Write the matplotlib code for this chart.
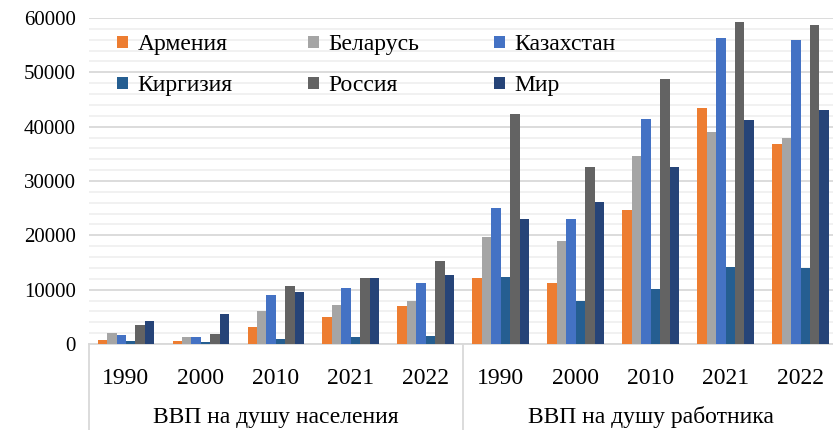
import numpy as np
import matplotlib.pyplot as plt
from matplotlib.patches import Patch
from matplotlib.ticker import MultipleLocator

plt.rcParams['font.family'] = ['Liberation Serif', 'DejaVu Serif']

years = ['1990', '2000', '2010', '2021', '2022'] * 2
groups = ['ВВП на душу населения', 'ВВП на душу работника']
countries = ['Армения', 'Беларусь', 'Казахстан', 'Киргизия', 'Россия', 'Мир']
colors = ['#ED7D31', '#A5A5A5', '#4472C4', '#255E91', '#636363', '#264478']

armenia = [650, 600, 3150, 4950, 7000, 12200, 11300, 24600, 43350, 36750]
belarus = [2100, 1250, 6050, 7250, 7850, 19750, 19000, 34650, 39000, 37950]
kazakhstan = [1600, 1250, 9050, 10350, 11250, 24950, 23000, 41450, 56300, 55900]
kyrgyzstan = [600, 300, 900, 1250, 1550, 12400, 7900, 10050, 14250, 13900]
russia = [3450, 1750, 10650, 12150, 15300, 42300, 32550, 48750, 59200, 58750]
world = [4300, 5500, 9550, 12200, 12650, 23000, 26200, 32500, 41200, 43000]
series = [armenia, belarus, kazakhstan, kyrgyzstan, russia, world]

fig = plt.figure(figsize=(8.33, 4.3), dpi=100)
ax = fig.add_axes([88.5 / 833, 86 / 430, 749.5 / 833, 326 / 430])

x = np.arange(len(years))
w = 0.126
for i, (vals, c, name) in enumerate(zip(series, colors, countries)):
    ax.bar(x + (i - 2.5) * w, vals, width=w, color=c, label=name, zorder=3)

ax.set_ylim(0, 60000)
ax.set_xlim(-0.5, 9.5)
ax.yaxis.set_major_locator(MultipleLocator(10000))
ax.yaxis.set_minor_locator(MultipleLocator(2000))
ax.grid(axis='y', which='major', color='#D9D9D9', linewidth=1.3, zorder=0)
ax.grid(axis='y', which='minor', color='#F0F0F0', linewidth=1.3, zorder=0)
for s in ['top', 'right', 'left']:
    ax.spines[s].set_visible(False)
ax.spines['bottom'].set_color('#D9D9D9')
ax.spines['bottom'].set_linewidth(1.3)
ax.tick_params(axis='y', which='both', length=0, labelsize=15, pad=9)
ax.tick_params(axis='x', length=0, labelsize=17, pad=17)
ax.set_xticks(x)
ax.set_xticklabels(years)

trans = ax.get_xaxis_transform()
for xs in [-0.5, 4.5, 9.5]:
    ax.plot([xs, xs], [0, -0.27], color='#D9D9D9', linewidth=1.3,
            transform=trans, clip_on=False)
for gi, g in enumerate(groups):
    ax.text(gi * 5 + 2, -0.225, g, transform=trans, ha='center', va='center',
            fontsize=17)

# legend fills column by column, so reorder to get rows like the original
order = [0, 3, 1, 4, 2, 5]
handles = [Patch(facecolor=colors[k]) for k in order]
labels = [countries[k] for k in order]
ax.legend(handles, labels, ncol=3, loc='upper left', bbox_to_anchor=(0.01, 1.015),
          frameon=False, fontsize=17, handlelength=0.45, handleheight=0.45,
          handletextpad=0.4, columnspacing=3.2, labelspacing=0.85)

fig.savefig('out.png', dpi=100)
